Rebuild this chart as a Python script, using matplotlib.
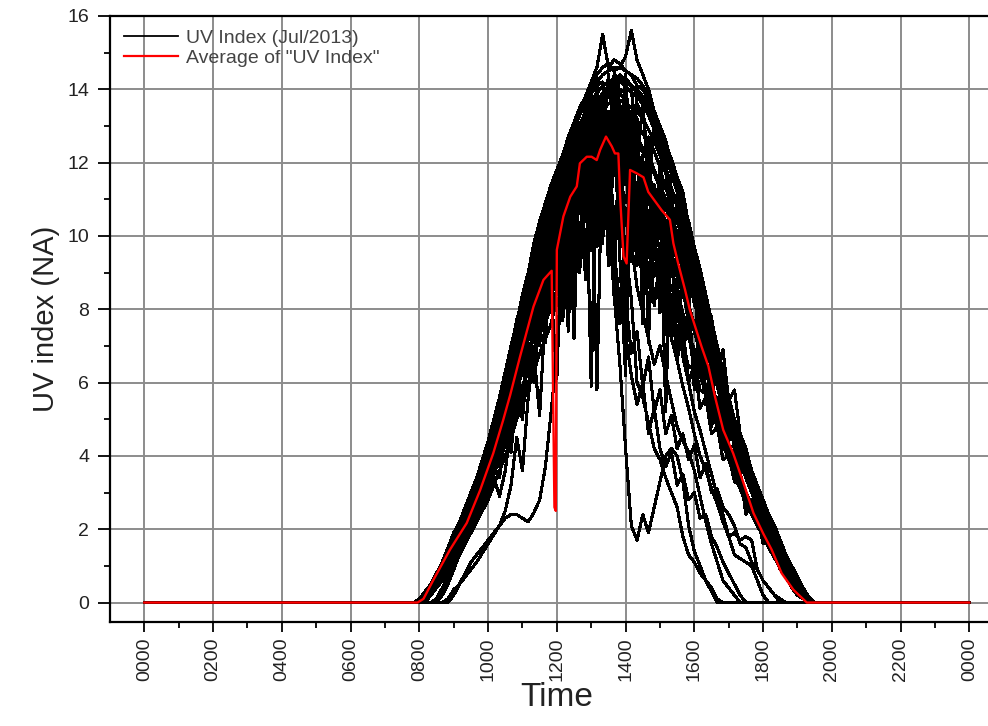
import numpy as np
import matplotlib
matplotlib.use("Agg")
import matplotlib.pyplot as plt
from matplotlib.lines import Line2D

plt.rcParams['font.family'] = ['Liberation Sans', 'DejaVu Sans']

# 10分ごとのサンプル 07:50 .. 19:40 (72点)
t_first = 7 + 50 / 60
t_step = 10 / 60
sample_hours = t_first + t_step * np.arange(72)

# 日ごとのUV index (読み取り値)
day01 = [0.0, 0.1, 0.3, 0.5, 0.8, 1.1, 1.5, 1.8, 2.2, 2.6, 3.0, 3.4,
         3.9, 4.4, 4.9, 5.6, 6.2, 6.9, 7.7, 8.3, 9.0, 9.7, 10.3, 10.9,
         11.4, 11.8, 12.2, 12.6, 13.1, 13.5, 13.8, 14.2, 14.6, 15.5, 14.6, 14.8,
         14.7, 14.5, 14.4, 14.1, 14.0, 13.7, 13.4, 12.9, 12.5, 12.0, 11.4, 10.9,
         10.3, 9.7, 9.0, 8.3, 7.6, 6.9, 6.2, 5.5, 4.9, 4.4, 3.9, 3.4,
         3.0, 2.6, 2.3, 1.9, 1.5, 1.2, 0.9, 0.6, 0.3, 0.1, 0.0, 0.0]
day02 = [0.0, 0.05, 0.2, 0.4, 0.7, 1.0, 1.4, 1.7, 2.0, 2.4, 2.8, 3.2,
         3.6, 4.1, 4.6, 5.2, 5.8, 6.5, 7.1, 7.8, 8.4, 9.1, 9.7, 10.2,
         10.7, 11.0, 11.4, 11.9, 12.3, 12.6, 13.0, 13.3, 13.5, 13.6, 13.8, 13.8,
         13.7, 13.6, 13.5, 13.4, 13.2, 12.9, 12.6, 12.2, 11.7, 11.2, 10.8, 10.2,
         9.7, 9.1, 8.5, 7.8, 7.2, 6.5, 5.9, 5.2, 4.7, 4.2, 3.7, 3.3,
         2.9, 2.5, 2.1, 1.8, 1.5, 1.1, 0.8, 0.5, 0.3, 0.1, 0.0, 0.0]
day03 = [0.0, 0.1, 0.3, 0.5, 0.8, 1.1, 1.4, 1.8, 2.1, 2.5, 2.9, 3.3,
         3.8, 4.3, 4.8, 5.4, 6.1, 6.8, 7.5, 8.1, 8.8, 9.5, 10.1, 10.6,
         11.1, 11.5, 9.2, 12.4, 12.8, 13.1, 10.4, 13.9, 14.1, 14.2, 12.6, 14.4,
         14.3, 14.3, 14.1, 11.8, 13.7, 13.5, 13.1, 12.7, 12.2, 11.7, 11.2, 10.7,
         10.1, 9.5, 8.8, 8.1, 7.5, 6.8, 6.1, 5.4, 4.8, 4.3, 3.8, 3.4,
         3.0, 2.6, 2.2, 1.9, 1.5, 1.2, 0.9, 0.6, 0.3, 0.1, 0.0, 0.0]
day04 = [0.0, 0.0, 0.2, 0.4, 0.6, 0.9, 1.3, 1.6, 2.0, 2.3, 2.7, 3.1,
         3.5, 4.0, 4.5, 5.0, 5.6, 6.3, 6.9, 6.2, 8.2, 8.8, 9.4, 7.8,
         10.4, 10.8, 11.1, 11.5, 8.6, 12.2, 12.6, 12.9, 13.0, 9.8, 13.3, 13.4,
         13.3, 13.2, 10.5, 13.0, 12.8, 12.5, 9.6, 11.8, 11.3, 10.9, 10.4, 9.9,
         9.3, 8.8, 8.2, 7.6, 6.9, 6.3, 5.7, 5.0, 4.5, 4.0, 3.6, 3.2,
         2.8, 2.4, 2.1, 1.8, 1.4, 1.1, 0.8, 0.5, 0.3, 0.1, 0.0, 0.0]
day05 = [0.0, 0.1, 0.3, 0.5, 0.8, 1.1, 1.5, 1.9, 2.2, 2.6, 3.0, 3.4,
         3.9, 4.4, 5.0, 5.6, 6.3, 7.0, 7.6, 8.4, 9.0, 9.8, 10.4, 10.9,
         11.4, 11.8, 12.2, 12.7, 13.1, 13.4, 13.8, 14.0, 14.4, 14.6, 14.7, 14.5,
         14.6, 14.9, 15.6, 14.8, 14.4, 14.0, 13.4, 13.0, 12.5, 12.0, 11.5, 10.9,
         10.3, 9.7, 9.0, 8.3, 7.6, 6.9, 6.2, 5.6, 5.0, 4.5, 4.0, 3.5,
         3.1, 2.7, 2.3, 2.0, 1.6, 1.2, 0.9, 0.6, 0.35, 0.1, 0.0, 0.0]
day06 = [0.0, 0.0, 0.2, 0.4, 0.7, 1.0, 1.3, 1.7, 2.0, 2.3, 2.7, 3.0,
         3.4, 3.9, 4.4, 4.2, 5.5, 6.1, 5.0, 7.3, 7.9, 6.4, 9.1, 9.6,
         7.9, 10.3, 10.7, 11.1, 11.4, 11.8, 12.1, 12.4, 12.6, 12.8, 12.9, 13.0,
         12.9, 12.8, 12.6, 12.5, 12.3, 12.1, 11.8, 11.4, 11.0, 10.5, 10.1, 9.6,
         9.1, 8.6, 8.0, 7.4, 6.8, 6.2, 5.6, 5.0, 4.4, 4.0, 3.5, 3.1,
         2.7, 2.4, 2.0, 1.7, 1.4, 1.1, 0.8, 0.5, 0.3, 0.1, 0.0, 0.0]
day07 = [0.0, 0.1, 0.2, 0.5, 0.7, 1.0, 1.4, 1.8, 2.1, 2.5, 2.9, 3.3,
         3.7, 4.2, 4.8, 5.4, 6.0, 6.7, 7.4, 8.0, 8.7, 9.3, 10.0, 10.5,
         11.0, 11.4, 11.9, 12.3, 12.7, 13.0, 13.4, 13.7, 13.9, 14.1, 14.2, 14.3,
         14.2, 14.1, 13.9, 13.8, 13.6, 13.3, 12.9, 12.5, 12.0, 9.8, 11.0, 10.5,
         8.2, 9.4, 8.7, 8.0, 6.1, 6.6, 6.0, 5.3, 4.7, 4.2, 3.8, 3.3,
         2.9, 2.5, 2.2, 1.9, 1.5, 1.2, 0.9, 0.6, 0.3, 0.1, 0.0, 0.0]
day08 = [0.0, 0.0, 0.2, 0.4, 0.7, 1.0, 1.3, 1.7, 2.0, 2.4, 2.8, 3.1,
         3.6, 4.0, 4.6, 5.1, 5.7, 6.4, 7.0, 7.7, 8.3, 8.9, 9.5, 10.0,
         10.6, 8.4, 11.3, 11.8, 7.2, 12.5, 12.9, 9.6, 13.4, 13.5, 11.2, 13.7,
         13.6, 7.8, 13.4, 13.2, 8.6, 12.7, 12.3, 11.9, 7.4, 10.9, 10.4, 9.9,
         9.4, 8.8, 6.2, 7.6, 7.0, 6.4, 5.8, 5.1, 4.6, 4.1, 3.6, 3.2,
         2.8, 2.4, 2.1, 1.7, 1.4, 1.1, 0.8, 0.5, 0.3, 0.1, 0.0, 0.0]
day09 = [0.0, 0.0, 0.0, 0.0, 0.0, 0.0, 0.1, 0.35, 0.5, 0.7, 0.9, 1.1,
         1.35, 1.6, 1.85, 2.1, 2.3, 2.4, 2.4, 2.3, 2.2, 2.45, 2.8, 3.7,
         5.2, 6.8, 8.9, 10.4, 11.6, 9.5, 12.2, 12.8, 13.2, 12.1, 10.6, 8.4,
         6.5, 4.2, 2.1, 1.7, 2.4, 1.9, 2.6, 3.3, 4.0, 4.2, 4.0, 3.3,
         2.1, 1.4, 1.0, 0.6, 0.3, 0.0, 0.0, 0.0, 0.0, 0.0, 0.0, 0.0,
         0.0, 0.0, 0.0, 0.0, 0.0, 0.0, 0.0, 0.0, 0.0, 0.0, 0.0, 0.0]
day10 = [0.0, 0.0, 0.0, 0.0, 0.0, 0.0, 0.0, 0.2, 0.5, 0.8, 1.1, 1.3,
         1.5, 1.7, 1.9, 2.1, 2.5, 3.2, 4.5, 3.6, 5.6, 6.8, 5.1, 8.0,
         9.3, 10.1, 10.8, 8.7, 11.6, 12.0, 11.4, 12.6, 10.2, 12.9, 11.7, 12.4,
         11.0, 9.6, 8.3, 6.0, 5.6, 4.9, 4.2, 3.9, 3.4, 3.0, 2.6, 1.8,
         1.3, 1.1, 0.8, 0.6, 0.4, 0.1, 0.0, 0.0, 0.0, 0.0, 0.0, 0.0,
         0.0, 0.0, 0.0, 0.0, 0.0, 0.0, 0.0, 0.0, 0.0, 0.0, 0.0, 0.0]
day11 = [0.0, 0.0, 0.0, 0.0, 0.1, 0.4, 0.7, 1.0, 1.3, 1.6, 2.0, 2.3,
         2.7, 3.0, 3.4, 2.9, 3.6, 4.8, 6.1, 5.3, 7.4, 8.5, 9.2, 7.1,
         10.2, 10.9, 11.6, 9.9, 12.5, 13.0, 12.4, 13.6, 13.8, 11.5, 10.2, 12.0,
         11.3, 10.5, 9.8, 8.6, 7.9, 7.2, 6.5, 7.0, 6.2, 5.5, 4.8, 4.4,
         4.1, 3.6, 2.9, 2.2, 1.6, 1.1, 0.6, 0.4, 0.2, 0.0, 0.0, 0.0,
         0.0, 0.0, 0.0, 0.0, 0.0, 0.0, 0.0, 0.0, 0.0, 0.0, 0.0, 0.0]
day12 = [0.0, 0.0, 0.1, 0.3, 0.6, 0.9, 1.2, 1.6, 1.9, 2.3, 2.7, 3.0,
         3.5, 3.9, 4.4, 5.0, 5.6, 6.2, 6.8, 7.5, 8.1, 8.7, 9.3, 9.8,
         10.3, 10.7, 11.1, 11.5, 11.9, 9.7, 12.5, 12.7, 12.9, 11.0, 13.1, 13.2,
         12.4, 11.6, 12.3, 10.8, 9.7, 10.6, 8.9, 9.8, 8.1, 7.2, 6.6, 5.9,
         5.3, 4.6, 4.0, 3.6, 3.1, 2.7, 2.2, 1.8, 1.3, 1.2, 1.1, 1.0,
         0.6, 0.2, 0.0, 0.0, 0.0, 0.0, 0.0, 0.0, 0.0, 0.0, 0.0, 0.0]
day13 = [0.0, 0.05, 0.2, 0.4, 0.7, 1.0, 1.4, 1.7, 2.1, 2.5, 2.8, 3.2,
         3.7, 4.1, 4.7, 5.3, 5.9, 6.6, 7.2, 7.9, 8.6, 9.2, 9.9, 10.3,
         10.9, 11.2, 11.7, 12.1, 12.5, 12.8, 13.2, 13.5, 13.7, 13.8, 13.9, 14.0,
         13.9, 13.7, 13.2, 12.4, 11.6, 10.4, 9.5, 10.2, 8.7, 7.6, 8.1, 6.7,
         6.0, 5.2, 4.7, 4.1, 3.5, 2.9, 2.4, 1.8, 1.9, 1.7, 1.8, 1.7,
         0.9, 0.6, 0.4, 0.2, 0.0, 0.0, 0.0, 0.0, 0.0, 0.0, 0.0, 0.0]
day14 = [0.0, 0.0, 0.1, 0.3, 0.5, 0.8, 1.1, 1.5, 1.8, 2.2, 2.6, 2.9,
         3.3, 3.8, 4.3, 4.8, 5.4, 6.0, 6.7, 7.3, 8.0, 8.6, 9.3, 9.9,
         10.4, 10.9, 11.4, 11.8, 12.2, 12.6, 13.0, 13.3, 13.6, 13.9, 14.0, 14.2,
         14.2, 14.2, 14.1, 14.0, 13.8, 13.6, 13.3, 12.9, 12.5, 12.1, 11.6, 11.2,
         10.3, 9.7, 9.1, 8.4, 7.7, 7.0, 6.3, 5.6, 5.0, 4.5, 4.0, 3.6,
         3.2, 2.8, 2.4, 2.1, 1.7, 1.3, 1.0, 0.7, 0.4, 0.15, 0.0, 0.0]
day15 = [0.0, 0.0, 0.1, 0.3, 0.5, 0.8, 1.1, 1.4, 1.7, 2.0, 2.3, 2.7,
         3.0, 3.4, 3.9, 4.4, 4.9, 5.5, 6.0, 6.6, 7.2, 7.7, 8.3, 8.8,
         9.2, 9.6, 9.9, 10.3, 10.6, 10.9, 11.2, 11.4, 11.6, 11.7, 11.8, 11.9,
         11.8, 11.7, 11.6, 11.4, 11.2, 11.0, 10.7, 10.3, 9.9, 9.5, 9.1, 8.6,
         8.1, 7.6, 7.1, 6.5, 6.0, 5.4, 4.9, 4.3, 3.8, 3.4, 3.0, 2.6,
         2.3, 2.0, 1.7, 1.4, 1.1, 0.8, 0.6, 0.4, 0.2, 0.05, 0.0, 0.0]
day16 = [0.0, 0.1, 0.2, 0.5, 0.8, 1.1, 1.4, 1.8, 2.1, 2.5, 2.9, 3.3,
         3.8, 4.2, 4.8, 5.4, 6.0, 6.7, 7.3, 7.1, 8.6, 9.2, 8.1, 10.3,
         10.8, 11.3, 10.1, 12.1, 12.5, 11.0, 13.2, 13.5, 12.0, 13.9, 14.1, 13.0,
         14.0, 13.9, 12.6, 13.6, 13.3, 12.2, 12.8, 12.3, 11.9, 11.3, 10.9, 10.3,
         9.8, 9.2, 8.5, 7.9, 7.2, 6.6, 6.0, 5.3, 4.8, 4.3, 3.8, 3.4,
         3.0, 2.6, 2.2, 1.9, 1.5, 1.2, 0.9, 0.6, 0.3, 0.1, 0.0, 0.0]
day17 = [0.0, 0.0, 0.0, 0.0, 0.0, 0.2, 0.5, 0.9, 1.3, 1.6, 2.1, 2.5,
         3.0, 3.6, 4.2, 3.7, 5.0, 4.4, 5.9, 6.8, 5.6, 8.1, 7.0, 9.2,
         8.5, 6.1, 10.6, 7.4, 11.8, 9.0, 12.6, 5.9, 13.1, 10.8, 13.4, 8.3,
         13.3, 6.8, 12.9, 9.4, 12.2, 7.1, 11.4, 10.6, 8.2, 10.1, 6.9, 9.0,
         8.4, 5.8, 7.6, 6.9, 4.8, 5.6, 5.1, 3.9, 4.2, 3.6, 2.4, 2.8,
         2.4, 1.6, 1.7, 1.3, 0.9, 0.7, 0.4, 0.2, 0.1, 0.0, 0.0, 0.0]
day18 = [0.0, 0.0, 0.1, 0.3, 0.6, 0.9, 1.2, 1.6, 1.9, 2.3, 2.6, 3.0,
         3.4, 3.9, 4.4, 5.0, 5.5, 6.1, 6.8, 7.4, 8.0, 8.6, 9.1, 9.7,
         10.1, 10.6, 11.0, 11.4, 11.7, 12.1, 12.4, 12.6, 5.8, 12.9, 13.0, 13.1,
         9.4, 6.2, 12.9, 12.7, 7.6, 12.2, 11.8, 11.4, 5.2, 10.5, 10.0, 9.5,
         9.0, 8.4, 7.9, 5.4, 6.7, 6.1, 5.5, 4.9, 4.4, 3.9, 3.5, 3.1,
         2.7, 2.3, 2.0, 1.7, 1.4, 1.1, 0.8, 0.5, 0.25, 0.1, 0.0, 0.0]
day19 = [0.0, 0.0, 0.2, 0.4, 0.6, 0.9, 1.2, 1.5, 1.8, 2.1, 2.4, 2.7,
         3.1, 3.5, 4.0, 4.5, 5.0, 5.6, 6.2, 6.7, 7.3, 7.8, 8.4, 8.8,
         9.2, 10.4, 9.8, 11.2, 10.6, 11.9, 11.2, 12.6, 11.6, 13.1, 11.8, 13.0,
         11.8, 12.9, 11.6, 12.6, 11.3, 12.0, 10.8, 11.3, 10.1, 10.5, 9.2, 9.6,
         8.3, 8.6, 7.3, 7.5, 6.4, 6.3, 5.4, 5.3, 4.5, 4.4, 3.6, 3.3,
         2.8, 2.4, 2.0, 1.7, 1.4, 1.1, 0.8, 0.5, 0.3, 0.1, 0.0, 0.0]
day20 = [0.0, 0.05, 0.2, 0.45, 0.7, 1.0, 1.4, 1.7, 2.0, 2.4, 2.7, 3.1,
         3.5, 4.0, 4.5, 5.0, 5.7, 6.3, 6.9, 7.6, 8.2, 8.8, 9.5, 9.9,
         10.4, 10.7, 11.1, 11.5, 11.9, 12.2, 10.5, 12.9, 13.1, 11.2, 13.3, 9.8,
         12.1, 10.3, 11.4, 9.2, 10.6, 8.8, 9.9, 8.1, 9.0, 7.4, 8.2, 7.0,
         7.4, 6.3, 6.6, 5.6, 5.8, 4.9, 5.0, 4.2, 4.3, 3.6, 3.6, 3.0,
         2.6, 2.2, 1.9, 1.6, 1.3, 1.0, 0.7, 0.4, 0.2, 0.0, 0.0, 0.0]
day21 = [0.0, 0.0, 0.1, 0.3, 0.5, 0.8, 1.1, 1.4, 1.6, 1.9, 2.2, 2.6,
         2.9, 3.3, 3.7, 4.2, 4.7, 5.2, 5.8, 6.3, 6.8, 7.4, 7.9, 8.3,
         8.7, 9.6, 7.9, 10.9, 9.4, 12.1, 8.8, 12.9, 10.1, 13.6, 9.2, 13.9,
         10.6, 13.5, 9.3, 13.1, 8.4, 12.6, 9.9, 12.0, 8.6, 11.2, 9.4, 10.4,
         9.7, 8.1, 9.0, 7.2, 7.8, 6.4, 6.9, 5.5, 5.8, 4.6, 4.2, 3.6,
         3.0, 2.5, 2.2, 1.8, 1.5, 1.1, 0.8, 0.5, 0.3, 0.1, 0.0, 0.0]
day22 = [0.0, 0.1, 0.3, 0.5, 0.8, 1.1, 1.5, 1.9, 2.2, 2.6, 3.0, 3.4,
         3.8, 4.3, 4.9, 5.5, 6.1, 6.8, 7.5, 8.2, 8.9, 9.5, 10.2, 10.7,
         11.2, 11.6, 12.0, 12.5, 12.9, 13.3, 13.7, 14.0, 14.2, 14.4, 14.5, 14.6,
         12.3, 14.4, 11.7, 14.0, 13.8, 10.9, 13.2, 12.8, 9.5, 11.8, 11.3, 8.4,
         10.1, 9.4, 7.8, 8.0, 7.3, 5.9, 6.1, 5.4, 4.4, 4.3, 3.8, 3.4,
         3.0, 2.6, 2.2, 1.9, 1.5, 1.2, 0.9, 0.6, 0.3, 0.1, 0.0, 0.0]
day23 = [0.0, 0.0, 0.15, 0.4, 0.7, 1.0, 1.3, 1.6, 1.9, 2.3, 2.6, 3.0,
         3.4, 3.8, 4.3, 4.8, 5.4, 6.0, 6.6, 7.2, 7.8, 8.4, 9.0, 9.5,
         9.9, 10.3, 10.7, 11.1, 11.5, 11.9, 12.2, 12.5, 12.7, 12.9, 13.0, 13.1,
         13.0, 12.8, 12.5, 12.1, 11.7, 11.2, 10.7, 10.1, 9.6, 9.0, 8.5, 7.9,
         7.3, 6.7, 6.2, 5.7, 5.2, 4.8, 4.3, 3.9, 3.5, 3.1, 2.8, 2.5,
         2.2, 1.9, 1.6, 1.3, 1.0, 0.8, 0.6, 0.4, 0.2, 0.05, 0.0, 0.0]
day24 = [0.0, 0.05, 0.2, 0.4, 0.7, 1.0, 1.3, 1.7, 2.0, 2.4, 2.8, 3.2,
         3.6, 4.1, 4.6, 5.2, 5.8, 6.4, 7.0, 7.7, 8.3, 9.0, 9.6, 10.1,
         10.6, 11.0, 11.4, 11.8, 12.2, 12.5, 12.8, 13.1, 13.3, 13.5, 13.6, 13.7,
         13.6, 11.4, 12.6, 9.8, 11.2, 8.6, 10.4, 7.9, 9.6, 7.2, 8.8, 6.8,
         7.9, 6.1, 7.2, 5.7, 6.4, 4.9, 5.6, 4.4, 4.7, 3.8, 3.9, 3.2,
         2.9, 2.4, 2.1, 1.7, 1.4, 1.1, 0.8, 0.5, 0.3, 0.1, 0.0, 0.0]
day25 = [0.0, 0.1, 0.25, 0.5, 0.8, 1.1, 1.5, 1.8, 2.2, 2.6, 3.0, 3.3,
         3.8, 4.3, 4.9, 5.5, 6.1, 5.2, 7.4, 6.3, 8.9, 7.1, 10.2, 8.4,
         11.2, 9.0, 12.0, 10.2, 12.9, 11.1, 13.6, 10.4, 14.1, 12.3, 14.4, 13.1,
         14.4, 14.2, 14.1, 13.9, 13.7, 13.4, 13.0, 12.6, 12.2, 11.7, 11.2, 10.6,
         10.0, 9.4, 8.8, 8.1, 7.4, 6.8, 6.1, 5.4, 4.8, 4.3, 3.8, 3.4,
         3.0, 2.6, 2.2, 1.9, 1.5, 1.2, 0.9, 0.6, 0.3, 0.1, 0.0, 0.0]
day26 = [0.0, 0.0, 0.1, 0.3, 0.5, 0.7, 1.0, 1.3, 1.5, 1.8, 2.1, 2.4,
         2.7, 3.1, 3.5, 3.9, 4.4, 4.9, 5.4, 5.9, 6.4, 6.9, 7.4, 7.8,
         8.1, 8.5, 8.8, 9.2, 9.5, 9.8, 10.1, 10.3, 10.5, 10.6, 10.7, 10.8,
         10.7, 10.6, 10.5, 10.3, 10.1, 9.9, 9.6, 9.3, 8.9, 8.6, 8.2, 7.8,
         7.3, 6.9, 6.4, 5.9, 5.4, 4.9, 4.4, 3.9, 3.5, 3.1, 2.7, 2.4,
         2.1, 1.8, 1.5, 1.2, 1.0, 0.7, 0.5, 0.3, 0.15, 0.0, 0.0, 0.0]
day27 = [0.0, 0.1, 0.3, 0.5, 0.8, 1.1, 1.5, 1.8, 2.2, 2.5, 2.9, 3.3,
         3.8, 4.3, 4.8, 5.4, 6.1, 6.8, 7.4, 8.1, 8.8, 9.5, 10.1, 10.7,
         11.2, 11.6, 12.0, 12.5, 12.9, 13.3, 13.6, 13.9, 14.2, 14.4, 14.5, 14.6,
         14.6, 14.5, 14.4, 14.3, 14.1, 13.8, 13.4, 13.0, 12.6, 12.0, 11.5, 10.9,
         10.4, 9.7, 9.1, 8.4, 7.7, 7.0, 6.3, 5.6, 5.0, 4.5, 4.0, 3.5,
         3.1, 2.7, 2.3, 2.0, 1.6, 1.2, 0.9, 0.6, 0.35, 0.1, 0.0, 0.0]
day28 = [0.0, 0.0, 0.1, 0.3, 0.6, 0.8, 1.1, 1.5, 1.8, 2.1, 2.5, 2.8,
         3.2, 3.6, 4.1, 4.6, 5.1, 5.7, 6.3, 6.9, 7.5, 8.1, 8.7, 9.2,
         9.7, 10.2, 10.6, 11.0, 11.4, 11.8, 12.1, 12.4, 12.7, 12.9, 13.1, 13.2,
         13.2, 13.1, 12.9, 12.7, 12.4, 12.1, 11.7, 11.3, 10.8, 10.3, 9.8, 9.3,
         8.7, 8.2, 7.6, 7.0, 6.4, 5.9, 5.3, 4.8, 4.3, 3.8, 3.4, 3.0,
         2.6, 2.3, 2.0, 1.7, 1.4, 1.1, 0.8, 0.5, 0.3, 0.1, 0.0, 0.0]
day29 = [0.0, 0.0, 0.1, 0.3, 0.5, 0.7, 1.0, 1.3, 1.5, 1.8, 2.1, 2.4,
         2.7, 3.0, 3.5, 3.9, 4.3, 4.9, 5.3, 5.9, 6.3, 6.9, 7.3, 7.7,
         8.0, 8.5, 8.3, 9.1, 9.6, 9.2, 10.1, 10.4, 9.7, 10.6, 10.4, 10.8,
         10.2, 10.5, 9.6, 9.9, 9.1, 9.2, 8.4, 8.6, 7.7, 7.9, 7.0, 7.1,
         6.4, 6.5, 5.8, 5.7, 5.0, 4.9, 4.4, 4.0, 3.6, 3.2, 2.8, 2.5,
         2.2, 1.9, 1.6, 1.3, 1.0, 0.8, 0.6, 0.4, 0.2, 0.05, 0.0, 0.0]
day30 = [0.0, 0.0, 0.15, 0.35, 0.6, 0.8, 1.1, 1.4, 1.7, 2.0, 2.3, 2.6,
         3.0, 3.3, 3.8, 4.2, 4.7, 5.3, 5.8, 6.3, 6.8, 7.4, 7.9, 8.3,
         8.6, 9.0, 9.3, 9.7, 10.0, 11.2, 9.4, 12.3, 10.8, 12.6, 11.1, 12.4,
         11.6, 10.9, 11.8, 10.2, 10.8, 9.4, 9.9, 8.8, 9.1, 8.2, 8.3, 7.6,
         7.2, 6.8, 6.3, 5.9, 5.4, 4.9, 4.4, 3.9, 3.5, 3.2, 2.8, 2.5,
         2.2, 1.9, 1.6, 1.3, 1.1, 0.8, 0.6, 0.4, 0.2, 0.05, 0.0, 0.0]
day31 = [0.0, 0.0, 0.0, 0.2, 0.4, 0.6, 0.9, 1.1, 1.4, 1.6, 1.9, 2.2,
         2.5, 2.8, 3.2, 3.6, 4.0, 4.5, 5.0, 5.4, 5.9, 6.3, 6.8, 7.2,
         7.6, 8.3, 7.7, 9.0, 8.6, 10.2, 9.1, 11.4, 9.9, 12.2, 10.7, 12.8,
         11.9, 12.6, 11.1, 12.0, 10.5, 11.3, 9.6, 10.4, 8.9, 9.5, 8.0, 8.6,
         7.6, 7.5, 6.7, 6.4, 5.8, 5.3, 4.8, 4.3, 3.8, 3.4, 3.0, 2.7,
         2.4, 2.0, 1.7, 1.4, 1.1, 0.9, 0.6, 0.4, 0.2, 0.05, 0.0, 0.0]
day32 = [0.0, 0.05, 0.2, 0.4, 0.7, 0.9, 1.3, 1.6, 1.9, 2.2, 2.6, 2.9,
         3.3, 3.8, 4.2, 4.8, 5.3, 5.9, 6.5, 7.1, 7.7, 8.3, 8.9, 9.3,
         9.8, 10.1, 10.5, 10.9, 11.2, 11.6, 11.9, 12.2, 12.3, 12.5, 12.6, 12.7,
         11.2, 12.3, 9.8, 11.4, 8.9, 10.2, 8.1, 9.4, 7.3, 8.4, 6.6, 7.5,
         6.0, 6.5, 5.3, 5.6, 4.6, 4.8, 3.9, 4.0, 3.3, 3.2, 2.7, 2.5,
         2.2, 1.8, 1.5, 1.3, 1.0, 0.8, 0.5, 0.3, 0.15, 0.0, 0.0, 0.0]
day33 = [0.0, 0.0, 0.1, 0.3, 0.6, 0.8, 1.2, 1.5, 1.8, 2.1, 2.5, 2.8,
         3.2, 3.6, 4.0, 4.5, 5.1, 5.6, 6.2, 6.8, 7.3, 7.9, 8.5, 9.0,
         9.3, 11.0, 8.6, 11.8, 9.4, 12.7, 8.9, 13.2, 9.8, 13.6, 10.5, 13.8,
         9.9, 13.4, 10.6, 12.9, 9.1, 12.3, 10.2, 11.7, 8.8, 10.9, 9.6, 10.0,
         8.4, 9.0, 7.1, 7.8, 6.5, 6.6, 5.4, 5.6, 4.6, 4.3, 3.7, 3.3,
         2.9, 2.5, 2.1, 1.8, 1.4, 1.1, 0.8, 0.5, 0.3, 0.1, 0.0, 0.0]
day34 = [0.0, 0.0, 0.1, 0.3, 0.5, 0.8, 1.0, 1.3, 1.6, 1.9, 2.2, 2.5,
         2.9, 3.2, 3.7, 3.4, 4.6, 4.1, 5.7, 5.0, 6.9, 6.0, 8.1, 7.2,
         9.2, 8.4, 10.3, 9.5, 11.3, 10.6, 12.1, 11.4, 12.6, 12.0, 13.0, 12.4,
         12.8, 12.5, 12.3, 12.0, 11.6, 11.2, 10.8, 10.4, 9.9, 9.4, 8.9, 8.4,
         7.9, 7.4, 6.8, 6.3, 5.8, 5.2, 4.7, 4.2, 3.7, 3.3, 2.9, 2.6,
         2.3, 2.0, 1.7, 1.4, 1.1, 0.8, 0.6, 0.4, 0.2, 0.05, 0.0, 0.0]
day35 = [0.0, 0.05, 0.2, 0.4, 0.7, 1.0, 1.3, 1.7, 2.0, 2.4, 2.7, 3.1,
         3.5, 4.0, 4.5, 5.1, 5.6, 6.3, 6.9, 7.5, 8.2, 8.8, 9.4, 9.9,
         10.3, 10.8, 11.2, 11.6, 12.0, 12.3, 12.6, 12.9, 12.1, 10.4, 11.2, 9.6,
         8.1, 7.3, 6.2, 5.4, 6.0, 4.6, 5.3, 4.2, 3.7, 4.1, 3.2, 3.5,
         2.8, 3.0, 2.3, 2.4, 1.8, 1.5, 1.1, 0.8, 0.5, 0.2, 0.0, 0.0,
         0.0, 0.0, 0.0, 0.0, 0.0, 0.0, 0.0, 0.0, 0.0, 0.0, 0.0, 0.0]
day36 = [0.0, 0.0, 0.1, 0.3, 0.6, 0.9, 1.2, 1.5, 1.9, 2.2, 2.6, 2.9,
         3.3, 3.8, 4.3, 4.9, 5.4, 6.0, 6.6, 7.3, 7.9, 8.5, 9.1, 9.6,
         10.0, 10.5, 10.9, 11.3, 11.7, 12.0, 12.3, 12.6, 12.8, 11.4, 9.8, 8.9,
         7.6, 8.3, 6.8, 7.4, 5.9, 6.7, 5.2, 5.8, 4.6, 5.1, 4.2, 4.6,
         3.9, 4.3, 3.4, 3.8, 3.0, 3.1, 2.6, 2.4, 2.1, 1.6, 1.5, 1.1,
         0.9, 0.6, 0.4, 0.2, 0.1, 0.0, 0.0, 0.0, 0.0, 0.0, 0.0, 0.0]

days = [day01, day02, day03, day04, day05, day06, day07, day08, day09, day10,
        day11, day12, day13, day14, day15, day16, day17, day18, day19, day20,
        day21, day22, day23, day24, day25, day26, day27, day28, day29, day30,
        day31, day32, day33, day34, day35, day36]

# 平均 (赤線) 読み取り値
avg_hours = [0, 7.95, 8.12, 8.41, 8.89, 9.38, 9.77, 10.15, 10.44, 10.64,
             10.93, 11.32, 11.61, 11.85, 11.93, 11.97, 12.0, 12.19, 12.39, 12.58,
             12.67, 12.87, 13.01, 13.16, 13.26, 13.43, 13.6, 13.69, 13.79, 13.84,
             13.94, 14.03, 14.13, 14.32, 14.52, 14.66, 15.05, 15.29, 15.39, 15.53,
             15.73, 15.87, 16.21, 16.41, 16.6, 16.84, 17.13, 17.43, 17.72, 18.0,
             18.25, 18.54, 18.88, 19.27, 24]
avg_uv = [0, 0, 0.1, 0.62, 1.44, 2.17, 3.07, 4.07, 4.98, 5.65,
          6.71, 8.07, 8.8, 9.05, 2.6, 2.5, 9.62, 10.53, 11.07, 11.35,
          11.98, 12.16, 12.16, 12.07, 12.35, 12.71, 12.44, 12.25, 12.25, 11.07,
          9.44, 9.25, 11.8, 11.71, 11.6, 11.2, 10.7, 10.44, 9.8, 9.25,
          8.53, 7.98, 6.98, 6.44, 5.62, 4.71, 4.07, 3.26, 2.44, 1.89,
          1.44, 0.8, 0.35, 0, 0]

tick_hours = list(range(0, 25, 2))
tick_labels = ["0000", "0200", "0400", "0600", "0800", "1000", "1200",
               "1400", "1600", "1800", "2000", "2200", "0000"]

fig = plt.figure(figsize=(9.88, 7.26), dpi=100)
ax = fig.add_axes([0.1113, 0.1433, 0.9046, 0.8347])

t_full = np.concatenate([[0.0], sample_hours, [24.0]])
for d in days:
    ax.plot(t_full, np.concatenate([[0.0], d, [0.0]]), color='black', lw=1.5,
            antialiased=False, zorder=2)
ax.plot(avg_hours, avg_uv, color='#ff0000', lw=1.7, zorder=3)

ax.set_xlim(-1, 25)
ax.set_ylim(-0.53, 16)
ax.set_xticks(tick_hours)
ax.set_xticklabels(tick_labels, rotation=90)
ax.set_xticks(np.arange(1, 25, 2), minor=True)
ax.set_yticks(np.arange(0, 17, 2))
ax.set_yticks(np.arange(1, 16, 2), minor=True)

ax.grid(True, which='major', color='#8c8c8c', lw=1.4)
ax.set_axisbelow(True)

for s in ['left', 'bottom', 'top', 'right']:
    ax.spines[s].set_linewidth(1.6)
ax.tick_params(axis='both', which='both', direction='out', width=1.3,
               labelsize=14, labelcolor='#222222')
ax.tick_params(axis='x', which='major', length=7, pad=4)
ax.tick_params(axis='x', which='minor', length=4.5)
ax.tick_params(axis='y', which='major', length=9, pad=6)
ax.tick_params(axis='y', which='minor', length=4.5)

ax.set_xlabel("Time", fontsize=24, labelpad=1, color='#222222')
ax.set_ylabel("UV index (NA)", fontsize=21, labelpad=5, color='#222222')

handles = [Line2D([], [], color='black', lw=1.3),
           Line2D([], [], color='#ff0000', lw=1.6)]
labels = ["UV Index (Jul/2013)", 'Average of "UV Index"']
ax.legend(handles, labels, loc='upper left', bbox_to_anchor=(0.1255, 0.96),
          bbox_transform=fig.transFigure, frameon=False, fontsize=14,
          handlelength=2.8, handletextpad=0.4, labelspacing=0.15,
          borderpad=0, borderaxespad=0, labelcolor='#444444')

fig.savefig("out.png", dpi=100)
